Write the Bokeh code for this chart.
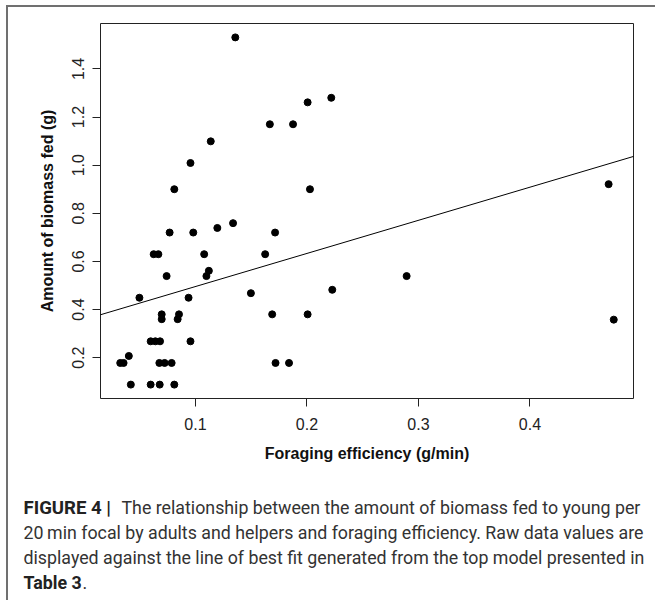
from bokeh.plotting import figure
from bokeh.layouts import column, row
from bokeh.models import Range1d, FixedTicker, PrintfTickFormatter, Slope, ColumnDataSource
from bokeh.core.properties import value
from bokeh.embed import file_html
from bokeh.resources import INLINE

# Data
foraging_eff = [0.0325, 0.0355, 0.0402, 0.042, 0.0497, 0.0598, 0.064, 0.0682, 0.0598, 0.0679,
                0.081, 0.0625, 0.0667, 0.0697, 0.0697, 0.0676, 0.0723, 0.0786, 0.0741, 0.0768,
                0.081, 0.0852, 0.084, 0.0938, 0.0955, 0.0955, 0.098, 0.1078, 0.1098, 0.112,
                0.1137, 0.1196, 0.1337, 0.1357, 0.1497, 0.1625, 0.1667, 0.1688, 0.1714, 0.1718,
                0.1839, 0.1875, 0.2006, 0.2006, 0.2027, 0.2218, 0.2227, 0.2894, 0.4706, 0.4752]
biomass_fed = [0.178, 0.178, 0.207, 0.088, 0.449, 0.268, 0.268, 0.268, 0.088, 0.088,
               0.088, 0.63, 0.63, 0.38, 0.36, 0.178, 0.178, 0.178, 0.539, 0.72,
               0.90, 0.38, 0.36, 0.449, 0.268, 1.009, 0.72, 0.63, 0.539, 0.561,
               1.099, 0.739, 0.759, 1.531, 0.468, 0.63, 1.17, 0.38, 0.72, 0.178,
               0.178, 1.17, 1.261, 0.38, 0.90, 1.28, 0.482, 0.539, 0.921, 0.358]
fit_intercept = 0.358
fit_slope = 1.376
x_ticks = [0.1, 0.2, 0.3, 0.4]
y_ticks = [0.2, 0.4, 0.6, 0.8, 1.0, 1.2, 1.4]
x_title = "Foraging efficiency (g/min)"
y_title = "Amount of biomass fed (g)"
caption_bold_1 = "FIGURE 4 |"
caption_rest_1 = "The relationship between the amount of biomass fed to young per"
caption_line_2 = "20\u2009min focal by adults and helpers and foraging efficiency. Raw data values are"
caption_line_3 = "displayed against the line of best fit generated from the top model presented in"
caption_bold_4 = "Table 3"
caption_rest_4 = "."

def ext(vals, f=0.04):
    lo, hi = min(vals), max(vals)
    d = (hi - lo) * f
    return lo - d, hi + d

xlo, xhi = ext(foraging_eff)
ylo, yhi = ext(biomass_fed)

CHART_FONT = "Liberation Sans"
CAP_FONT = "Roboto"
CAP_SIZE = "17.8px"

p = figure(width=647, height=468, frame_width=533, frame_height=375,
           min_border_left=92, min_border_right=22, min_border_top=16, min_border_bottom=77,
           x_range=Range1d(xlo, xhi), y_range=Range1d(ylo, yhi),
           output_backend="svg", toolbar_location=None, tools="")
p.grid.visible = False
p.outline_line_color = "#222222"
p.outline_line_width = 1
p.background_fill_color = "white"
p.border_fill_color = "white"

src = ColumnDataSource(dict(x=foraging_eff, y=biomass_fed))
p.scatter("x", "y", source=src, size=7, color="black")
p.add_layout(Slope(gradient=fit_slope, y_intercept=fit_intercept, line_color="black", line_width=1))

for ax in (p.xaxis[0], p.yaxis[0]):
    ax.axis_line_color = None
    ax.major_tick_line_color = "#222222"
    ax.major_tick_out = 8
    ax.major_tick_in = 0
    ax.minor_tick_line_color = None
    ax.major_label_text_font = CHART_FONT
    ax.major_label_text_font_size = "16px"
    ax.major_label_text_color = "#222222"
    ax.axis_label_text_font = CHART_FONT
    ax.axis_label_text_font_size = "16px"
    ax.axis_label_text_font_style = "bold"
    ax.axis_label_text_color = "#111111"
    ax.formatter = PrintfTickFormatter(format="%.1f")

p.xaxis[0].ticker = FixedTicker(ticks=x_ticks)
p.yaxis[0].ticker = FixedTicker(ticks=y_ticks)
p.xaxis[0].axis_label = x_title
p.yaxis[0].axis_label = y_title
p.xaxis[0].major_label_standoff = 11
p.yaxis[0].major_label_standoff = 8
p.xaxis[0].axis_label_standoff = 12
p.yaxis[0].axis_label_standoff = 14
p.yaxis[0].major_label_orientation = "vertical"

# caption panel (page-pixel coordinates inside its own frame)
c = figure(width=647, height=125, x_range=Range1d(0, 647), y_range=Range1d(125, 0),
           min_border=0, x_axis_location=None, y_axis_location=None,
           output_backend="svg", toolbar_location=None, tools="")
c.grid.visible = False
c.outline_line_color = None
c.border_fill_color = "white"

def cap(x, y, text, bold=False, size=CAP_SIZE):
    c.text(x=[x], y=[y], text=[text], text_font=value(CAP_FONT), text_font_size=size,
           text_font_style="bold" if bold else "normal",
           text_color="#222222" if bold else "#333333",
           text_baseline="middle", text_align="left")

cap(15, 32, caption_bold_1, True, "18.6px")
cap(113, 32, caption_rest_1)
cap(15, 57, caption_line_2)
cap(15, 82, caption_line_3)
cap(15, 107, caption_bold_4, True)
cap(74, 107, caption_rest_4)

layout = column(p, row(c), margin=(5, 0, 0, 6), spacing=0,
                styles={"border-top": "2px solid #707070", "border-left": "2px solid #707070"})

open("out.html", "w").write(file_html(layout, INLINE))
